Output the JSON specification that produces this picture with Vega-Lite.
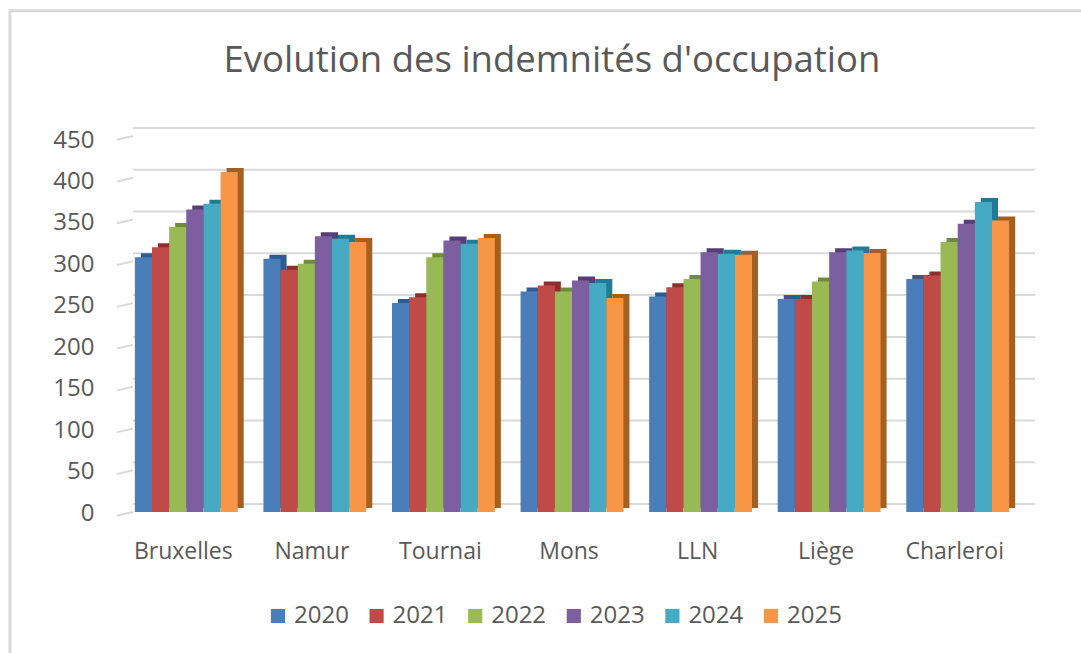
{"$schema":"https://vega.github.io/schema/vega-lite/v6.json","width":900,"height":376,"autosize":"none","padding":{"left":122,"top":136,"right":59,"bottom":141},"background":"white","title":{"text":"Evolution des indemnités d'occupation","font":"Open Sans","fontSize":36.5,"fontWeight":"normal","color":"#595959","anchor":"middle","dx":-20,"offset":-70},"config":{"view":{"stroke":null},"axis":{"labelFont":"Open Sans","labelColor":"#595959"}},"data":{"values":[
{"city":"Bruxelles","year":"2020","value":305},{"city":"Bruxelles","year":"2021","value":317},{"city":"Bruxelles","year":"2022","value":341},{"city":"Bruxelles","year":"2023","value":362},{"city":"Bruxelles","year":"2024","value":369},{"city":"Bruxelles","year":"2025","value":407},
{"city":"Namur","year":"2020","value":303},{"city":"Namur","year":"2021","value":290},{"city":"Namur","year":"2022","value":297},{"city":"Namur","year":"2023","value":330},{"city":"Namur","year":"2024","value":327},{"city":"Namur","year":"2025","value":323},
{"city":"Tournai","year":"2020","value":250},{"city":"Tournai","year":"2021","value":257},{"city":"Tournai","year":"2022","value":305},{"city":"Tournai","year":"2023","value":325},{"city":"Tournai","year":"2024","value":321},{"city":"Tournai","year":"2025","value":328},
{"city":"Mons","year":"2020","value":264},{"city":"Mons","year":"2021","value":271},{"city":"Mons","year":"2022","value":264},{"city":"Mons","year":"2023","value":277},{"city":"Mons","year":"2024","value":274},{"city":"Mons","year":"2025","value":256},
{"city":"LLN","year":"2020","value":258},{"city":"LLN","year":"2021","value":269},{"city":"LLN","year":"2022","value":279},{"city":"LLN","year":"2023","value":311},{"city":"LLN","year":"2024","value":309},{"city":"LLN","year":"2025","value":308},
{"city":"Liège","year":"2020","value":255},{"city":"Liège","year":"2021","value":255},{"city":"Liège","year":"2022","value":276},{"city":"Liège","year":"2023","value":311},{"city":"Liège","year":"2024","value":313},{"city":"Liège","year":"2025","value":310},
{"city":"Charleroi","year":"2020","value":279},{"city":"Charleroi","year":"2021","value":283},{"city":"Charleroi","year":"2022","value":323},{"city":"Charleroi","year":"2023","value":345},{"city":"Charleroi","year":"2024","value":371},{"city":"Charleroi","year":"2025","value":349}
]},
"resolve":{"scale":{"x":"independent","y":"independent","color":"independent"},"axis":{"x":"independent","y":"independent"}},
"layer":[
{"data":{"values":[{"frame":"outer"}]},"mark":{"type":"rect","fill":null,"stroke":"#d9d9d9","strokeWidth":3,"clip":false},"encoding":{"x":{"datum":-112,"type":"quantitative","scale":{"domain":[0,900]},"axis":null},"x2":{"datum":1100},"y":{"datum":600,"type":"quantitative","scale":{"domain":[0,450]},"axis":null},"y2":{"datum":-300}}},
{"data":{"values":[{"v":0},{"v":50},{"v":100},{"v":150},{"v":200},{"v":250},{"v":300},{"v":350},{"v":400},{"v":450}]},"mark":{"type":"rule","color":"#d9d9d9","strokeWidth":2,"yOffset":-8},"encoding":{"x":{"datum":11,"type":"quantitative","scale":{"domain":[0,900]},"axis":null},"x2":{"datum":913},"y":{"field":"v","type":"quantitative","scale":{"domain":[0,450]},"axis":null}}},
{"data":{"values":[{"v":0,"vf":-14},{"v":50,"vf":36},{"v":100,"vf":86},{"v":150,"vf":136},{"v":200,"vf":186},{"v":250,"vf":236},{"v":300,"vf":286},{"v":350,"vf":336},{"v":400,"vf":386},{"v":450,"vf":436}]},"mark":{"type":"rule","color":"#d9d9d9","strokeWidth":2,"yOffset":-8},"encoding":{"x":{"datum":-5,"type":"quantitative","scale":{"domain":[0,900]},"axis":null},"x2":{"datum":11},"y":{"field":"vf","type":"quantitative","scale":{"domain":[0,450]},"axis":null},"y2":{"field":"v"}}},
{"data":{"values":[{"v":0},{"v":450}]},"mark":{"type":"rule","opacity":0},"encoding":{"y":{"field":"v","type":"quantitative","scale":{"domain":[0,450],"range":[377,4]},"axis":{"orient":"left","title":null,"values":[0,50,100,150,200,250,300,350,400,450],"domain":false,"ticks":false,"grid":false,"labelFontSize":24,"labelPadding":28,"labelBaseline":"middle"}}}},
{"mark":{"type":"bar","yOffset":-4},"encoding":{"x":{"field":"city","type":"nominal","sort":["Bruxelles","Namur","Tournai","Mons","LLN","Liège","Charleroi"],"scale":{"paddingInner":0.2,"paddingOuter":0.1,"range":[6,906]},"axis":null},"xOffset":{"field":"year","type":"nominal"},"y":{"field":"value","type":"quantitative","scale":{"domain":[0,450]},"axis":null},"color":{"field":"year","type":"nominal","scale":{"range":["#2c5c94","#8c2f2c","#6f8c36","#563e78","#1f7c96","#a55f1e"]},"legend":null}}},
{"mark":{"type":"bar"},"encoding":{"x":{"field":"city","type":"nominal","sort":["Bruxelles","Namur","Tournai","Mons","LLN","Liège","Charleroi"],"scale":{"paddingInner":0.2,"paddingOuter":0.1},"axis":{"title":null,"labelAngle":0,"domain":false,"ticks":false,"grid":false,"labelFontSize":23,"labelPadding":28,"labelOffset":-3}},"xOffset":{"field":"year","type":"nominal"},"y":{"field":"value","type":"quantitative","scale":{"domain":[0,450]},"axis":null},"color":{"field":"year","type":"nominal","scale":{"range":["#4a7ebb","#be4b48","#98b954","#7d5fa0","#46aac5","#f79646"]},"legend":{"title":null,"orient":"none","legendX":144,"legendY":468,"direction":"horizontal","columns":6,"symbolType":"square","symbolSize":200,"symbolStrokeWidth":0,"labelFont":"Open Sans","labelFontSize":24,"labelColor":"#595959","columnPadding":15.6}}}}
]}
